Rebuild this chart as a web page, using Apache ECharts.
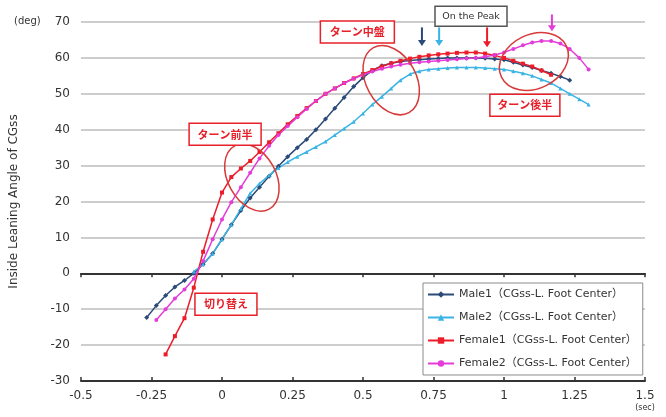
<!DOCTYPE html>
<html>
<head>
<meta charset="utf-8">
<script src="https://cdn.jsdelivr.net/npm/echarts@6/dist/echarts.min.js"></script>
<style>
  html, body { margin: 0; padding: 0; background: #fff; }
  #chart { width: 666px; height: 417px; }
</style>
</head>
<body>
<div id="chart"></div>
<script>
// 時間 (sec) と内傾角 (deg)
const male1X = [-0.267,-0.233,-0.2,-0.167,-0.133,-0.1,-0.067,-0.033,0,0.033,0.067,0.1,0.133,0.167,0.2,0.233,0.267,0.3,0.333,0.367,0.4,0.433,0.467,0.5,0.533,0.567,0.6,0.633,0.667,0.7,0.733,0.767,0.8,0.833,0.867,0.9,0.933,0.967,1,1.033,1.067,1.1,1.133,1.167,1.2,1.233]
const male1Y = [-12.3,-9,-6.2,-3.8,-2,0,2.5,5.5,9.5,13.5,17.5,21,24,27,29.8,32.5,35,37.3,40,43,46,49,52,54.5,56.5,57.8,58.5,59,59.3,59.5,59.7,59.8,60,60,60,60,59.9,59.7,59.5,58.8,58,57.3,56.5,55.7,54.8,53.8]

const male2X = [-0.1,-0.067,-0.033,0,0.033,0.067,0.1,0.133,0.167,0.2,0.233,0.267,0.3,0.333,0.367,0.4,0.433,0.467,0.5,0.533,0.567,0.6,0.633,0.667,0.7,0.733,0.767,0.8,0.833,0.867,0.9,0.933,0.967,1,1.033,1.067,1.1,1.133,1.167,1.2,1.233,1.267,1.3]
const male2Y = [0.5,2.5,5.5,9.5,13.5,18,22.3,25,27.3,29.3,31,32.5,33.8,35.2,36.7,38.5,40.3,42.2,44.5,47,49.2,51.5,53.8,55.5,56.3,56.8,57,57.2,57.3,57.3,57.3,57.2,57,56.8,56.3,55.7,55,54,53,51.5,50,48.5,47]

const female1X = [-0.2,-0.167,-0.133,-0.1,-0.067,-0.033,0,0.033,0.067,0.1,0.133,0.167,0.2,0.233,0.267,0.3,0.333,0.367,0.4,0.433,0.467,0.5,0.533,0.567,0.6,0.633,0.667,0.7,0.733,0.767,0.8,0.833,0.867,0.9,0.933,0.967,1,1.033,1.067,1.1,1.133,1.167]
const female1Y = [-22.6,-17.5,-12.5,-4,6,15,22.5,26.8,29.2,31.3,33.8,36.5,39,41.5,43.8,46,48,50,51.5,53,54.3,55.5,56.6,57.6,58.5,59.2,59.8,60.3,60.7,61,61.2,61.4,61.5,61.5,61.2,60.7,60,59.2,58.4,57.6,56.5,55.3]

const female2X = [-0.233,-0.2,-0.167,-0.133,-0.1,-0.067,-0.033,0,0.033,0.067,0.1,0.133,0.167,0.2,0.233,0.267,0.3,0.333,0.367,0.4,0.433,0.467,0.5,0.533,0.567,0.6,0.633,0.667,0.7,0.733,0.767,0.8,0.833,0.867,0.9,0.933,0.967,1,1.033,1.067,1.1,1.133,1.167,1.2,1.233,1.267,1.3]
const female2Y = [-13,-10,-7,-4.5,-1.5,3.4,9.5,15,19.8,24,28,32,35.5,38.5,41,43.5,45.8,48,50,51.5,53,54.2,55.3,56.2,57,57.6,58.1,58.5,58.8,59,59.2,59.4,59.6,59.8,60,60.3,60.8,61.5,62.5,63.5,64.3,64.7,64.7,64,62.5,60,56.8]

const seriesNames = [
  'Male1（CGss-L. Foot Center）',
  'Male2（CGss-L. Foot Center）',
  'Female1（CGss-L. Foot Center）',
  'Female2（CGss-L. Foot Center）'
]
const colors = ['#2b4a78', '#3ab4e4', '#ec1c2a', '#e43cd8']

// 注釈 (データ座標)
const boxes = [
  { text: 'ターン前半', x: 0.011, y: 38.7, w: 72, color: '#e8202a' },
  { text: 'ターン中盤', x: 0.48, y: 67.2, w: 74, color: '#e8202a' },
  { text: 'ターン後半', x: 1.074, y: 46.8, w: 70, color: '#e8202a' },
  { text: '切り替え', x: 0.014, y: -8.6, w: 62, color: '#e8202a' },
  { text: 'On the Peak', x: 0.883, y: 71.6, w: 72, color: '#333' }
]
const ellipses = [
  { x: 0.106, y: 26.7, rx: 24, ry: 36, rot: 0.5 },
  { x: 0.6, y: 53.8, rx: 25, ry: 37, rot: 0.5 },
  { x: 1.106, y: 59, rx: 36, ry: 27, rot: 0.45 }
]
const arrows = [
  { x: 0.709, y1: 68.5, y2: 63.3, color: colors[0] },
  { x: 0.77, y1: 68.5, y2: 63.3, color: colors[1] },
  { x: 0.94, y1: 68.5, y2: 63.0, color: colors[2] },
  { x: 1.17, y1: 72.1, y2: 67.4, color: colors[3] }
]

const font = '"DejaVu Sans", "Noto Sans CJK JP", sans-serif'
const jpFont = '"Noto Sans CJK JP", sans-serif'
const zip = (xs, ys) => xs.map((x, i) => [x, ys[i]])

const chart = echarts.init(document.getElementById('chart'))

const axisBase = { type: 'value', min: -0.5, max: 1.5, interval: 0.25 }

chart.setOption({
  animation: false,
  textStyle: { fontFamily: font },
  grid: { left: 81, right: 21, top: 22, bottom: 36 },
  legend: {
    orient: 'vertical',
    left: 423,
    top: 283,
    backgroundColor: '#fff',
    borderColor: '#8a8a8a',
    borderWidth: 1,
    borderRadius: 0,
    padding: [6, 6, 6, 4],
    itemGap: 12,
    itemWidth: 26,
    itemHeight: 8,
    textStyle: { fontSize: 11, color: '#333', fontFamily: font },
    data: seriesNames
  },
  xAxis: [
    Object.assign({}, axisBase, {
      axisLine: { show: false, onZero: false },
      axisTick: { show: false },
      splitLine: { show: false },
      axisLabel: { fontSize: 12, color: '#333', margin: 9 }
    }),
    Object.assign({}, axisBase, {
      position: 'bottom',
      axisLine: { onZero: true, lineStyle: { color: '#333', width: 2 } },
      axisTick: { show: true, inside: false, length: 4, lineStyle: { color: '#333', width: 1.5 } },
      axisLabel: { show: false },
      splitLine: { show: false }
    }),
    Object.assign({}, axisBase, {
      position: 'bottom',
      axisLine: { onZero: true, lineStyle: { color: '#333', width: 2 } },
      axisTick: { show: true, inside: true, length: 4, lineStyle: { color: '#333', width: 1.5 } },
      axisLabel: { show: false },
      splitLine: { show: false }
    })
  ],
  yAxis: {
    type: 'value',
    min: -30,
    max: 70,
    interval: 10,
    name: 'Inside Leaning Angle of CGss',
    nameLocation: 'middle',
    nameGap: 61,
    nameTextStyle: { fontSize: 12, color: '#333' },
    axisLine: { show: false },
    axisTick: { show: false },
    axisLabel: { fontSize: 12, color: '#333', margin: 11 },
    splitLine: { lineStyle: { color: '#bcbcbc', width: 1.5 } }
  },
  series: [
    { name: seriesNames[0], type: 'line', data: zip(male1X, male1Y), symbol: 'diamond', symbolSize: 5 },
    { name: seriesNames[1], type: 'line', data: zip(male2X, male2Y), symbol: 'triangle', symbolSize: 4 },
    { name: seriesNames[2], type: 'line', data: zip(female1X, female1Y), symbol: 'rect', symbolSize: 4 },
    { name: seriesNames[3], type: 'line', data: zip(female2X, female2Y), symbol: 'circle', symbolSize: 4 }
  ].map((s, i) => Object.assign(s, {
    color: colors[i],
    lineStyle: { width: 1.5, color: colors[i] },
    itemStyle: { color: colors[i] },
    showSymbol: true
  }))
})

// 注釈を描く
function drawNotes() {
  const px = (x, y) => chart.convertToPixel({ gridIndex: 0 }, [x, y])
  const g = []
  ellipses.forEach(e => {
    const p = px(e.x, e.y)
    g.push({
      type: 'ellipse', x: p[0], y: p[1], rotation: e.rot,
      shape: { cx: 0, cy: 0, rx: e.rx, ry: e.ry },
      style: { fill: 'none', stroke: '#d83a3a', lineWidth: 1.5 },
      z: 100
    })
  })
  boxes.forEach(b => {
    const p = px(b.x, b.y)
    const peak = b.color === '#333'
    g.push({
      type: 'rect', x: p[0] - b.w / 2, y: p[1] - (peak ? 10 : 11),
      shape: { width: b.w, height: peak ? 20 : 22 },
      style: { fill: '#fff', stroke: peak ? '#555' : b.color, lineWidth: 1.5 },
      z: 101
    })
    g.push({
      type: 'text', x: p[0], y: p[1],
      style: {
        text: b.text, fill: b.color, fontSize: peak ? 9.5 : 11,
        fontFamily: peak ? font : jpFont, fontWeight: peak ? 'normal' : 'bold',
        align: 'center', verticalAlign: 'middle'
      },
      z: 102
    })
  })
  arrows.forEach(a => {
    const p1 = px(a.x, a.y1)
    const p2 = px(a.x, a.y2)
    g.push({
      type: 'line', shape: { x1: p1[0], y1: p1[1], x2: p2[0], y2: p2[1] - 5 },
      style: { stroke: a.color, lineWidth: 2 }, z: 100
    })
    g.push({
      type: 'polygon',
      shape: { points: [[p2[0] - 4, p2[1] - 6], [p2[0] + 4, p2[1] - 6], [p2[0], p2[1]]] },
      style: { fill: a.color }, z: 100
    })
  })
  g.push({
    type: 'text', left: 14, top: 16,
    style: { text: '(deg)', fontSize: 10, fill: '#333', fontFamily: font }
  })
  const s = px(1.5, -30)
  g.push({
    type: 'text', x: s[0], y: s[1] + 27,
    style: { text: '(sec)', fontSize: 8, fill: '#333', fontFamily: font, align: 'center', verticalAlign: 'middle' }
  })
  chart.setOption({ graphic: g })
}
drawNotes()
</script>
</body>
</html>
